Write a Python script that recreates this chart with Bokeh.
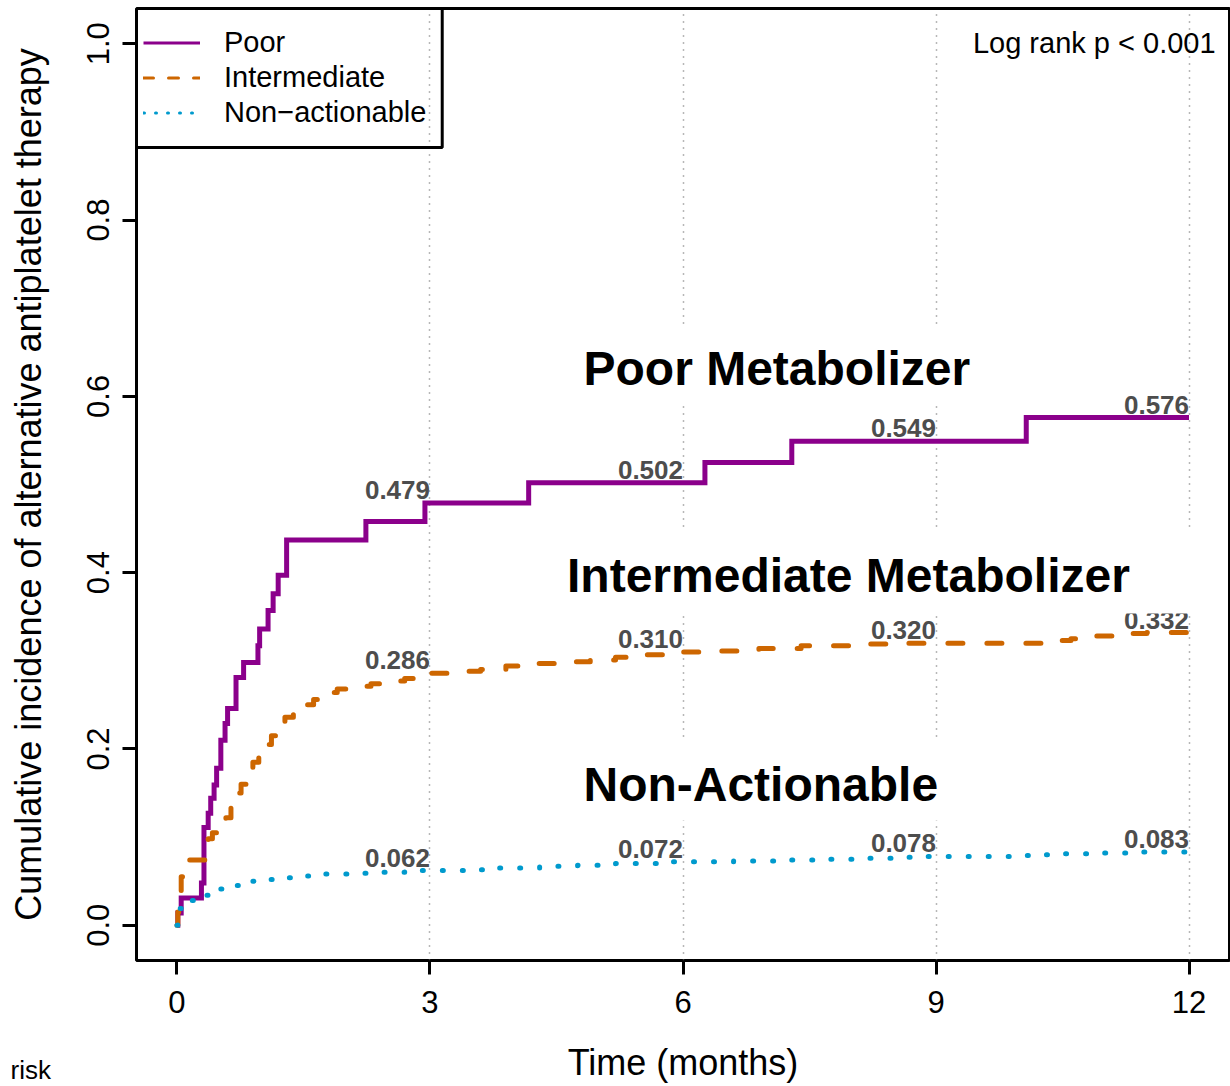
from bokeh.plotting import figure
from bokeh.models import (Range1d, FixedTicker, PrintfTickFormatter, Legend, LegendItem,
                          LabelSet, BoxAnnotation, ColumnDataSource, Title)
from bokeh.core.properties import value
from bokeh.embed import file_html
from bokeh.resources import INLINE

# ---------------- data ----------------
x_ticks = [0, 3, 6, 9, 12]
y_ticks = [0.0, 0.2, 0.4, 0.6, 0.8, 1.0]
grid_ticks = [3, 6, 9, 12]

poor_t = [0.00, 0.01, 0.05, 0.29, 0.32, 0.37, 0.40, 0.44, 0.47, 0.52, 0.57, 0.60, 0.70,
          0.79, 0.96, 0.98, 1.08, 1.14, 1.20, 1.30, 2.24, 2.94, 4.17, 6.26, 7.29, 10.07, 12.00]
poor_v = [0.000, 0.014, 0.031, 0.048, 0.111, 0.127, 0.144, 0.159, 0.178, 0.210, 0.229, 0.246, 0.281,
          0.298, 0.317, 0.336, 0.357, 0.376, 0.397, 0.437, 0.458, 0.479, 0.502, 0.525, 0.549, 0.576, 0.576]

inter_t = [0.00, 0.01, 0.03, 0.05, 0.07, 0.12, 0.33, 0.37, 0.42, 0.50, 0.58, 0.64, 0.70, 0.76,
           0.83, 0.90, 0.97, 1.05, 1.12, 1.20, 1.28, 1.38, 1.50, 1.62, 1.75, 1.90, 2.10, 2.30,
           2.50, 2.70, 2.85, 2.95, 3.30, 3.60, 3.90, 4.20, 4.50, 4.90, 5.20, 5.50, 5.80, 6.40,
           6.90, 7.40, 8.00, 8.50, 10.40, 10.60, 10.90, 11.20, 11.50, 12.00]
inter_v = [0.000, 0.015, 0.035, 0.055, 0.065, 0.074, 0.085, 0.098, 0.105, 0.112, 0.122, 0.135, 0.150, 0.160,
           0.172, 0.185, 0.195, 0.205, 0.215, 0.228, 0.236, 0.244, 0.250, 0.256, 0.264, 0.268, 0.271, 0.274,
           0.277, 0.280, 0.284, 0.286, 0.288, 0.290, 0.294, 0.297, 0.299, 0.301, 0.304, 0.307, 0.310, 0.311,
           0.314, 0.317, 0.319, 0.320, 0.323, 0.325, 0.328, 0.331, 0.332, 0.332]

nonact_t = [0.00, 0.01, 0.03, 0.10, 0.30, 0.45, 0.65, 0.90, 1.10, 1.30, 1.55, 1.75, 2.20, 2.45, 2.70,
            2.90, 3.40, 3.80, 4.30, 4.75, 5.20, 5.70, 6.60, 7.20, 7.70, 8.10, 8.60, 8.90, 10.00,
            10.20, 10.50, 11.00, 11.40, 12.00]
nonact_v = [0.000, 0.012, 0.019, 0.028, 0.034, 0.041, 0.045, 0.050, 0.052, 0.054, 0.056, 0.058, 0.059, 0.060, 0.061,
            0.062, 0.063, 0.065, 0.067, 0.068, 0.070, 0.072, 0.073, 0.074, 0.075, 0.076, 0.077, 0.078, 0.079,
            0.080, 0.081, 0.082, 0.083, 0.083]

label_times = [3, 6, 9, 12]
poor_labels = [0.479, 0.502, 0.549, 0.576]
inter_labels = [0.286, 0.310, 0.320, 0.332]
nonact_labels = [0.062, 0.072, 0.078, 0.083]

series_names = ["Poor", "Intermediate", "Non\u2212actionable"]
group_titles = ["Poor Metabolizer", "Intermediate Metabolizer", "Non-Actionable"]
logrank_text = "Log rank p < 0.001"
risk_text = "risk"

# ---------------- styles ----------------
PURPLE = "#8B008B"
ORANGE = "#CD6600"
BLUE = "#009ACD"
FONT = "Liberation Sans"
NAN = float("nan")

p = figure(width=1230, height=1086,
           x_range=Range1d(-0.48, 12.48), y_range=Range1d(-0.04, 1.04),
           output_backend="svg", toolbar_location=None,
           min_border_left=136, min_border_right=1, min_border_top=8, min_border_bottom=126,
           x_axis_label="Time (months)",
           y_axis_label="Cumulative incidence of alternative antiplatelet therapy")
p.background_fill_color = "white"
p.border_fill_color = "white"
p.outline_line_color = "black"
p.outline_line_width = 3

p.xaxis.ticker = FixedTicker(ticks=x_ticks)
p.yaxis.ticker = FixedTicker(ticks=y_ticks)
p.yaxis.formatter = PrintfTickFormatter(format="%.1f")
p.yaxis.major_label_orientation = "vertical"
for ax in (p.xaxis, p.yaxis):
    ax.axis_line_color = None
    ax.major_tick_line_color = "black"
    ax.major_tick_line_width = 3
    ax.major_tick_out = 14
    ax.major_tick_in = 0
    ax.minor_tick_line_color = None
    ax.major_label_text_font = FONT
    ax.major_label_text_font_size = "31px"
    ax.major_label_text_color = "black"
    ax.axis_label_text_font = FONT
    ax.axis_label_text_font_size = "36px"
    ax.axis_label_text_font_style = "normal"
    ax.axis_label_text_color = "black"
p.xaxis.major_label_standoff = 16
p.xaxis.axis_label_standoff = 26
p.yaxis.major_label_standoff = 13
p.yaxis.axis_label_standoff = 36

p.xgrid.ticker = FixedTicker(ticks=grid_ticks)
p.xgrid.grid_line_color = "#707070"
p.xgrid.grid_line_width = 1.5
p.xgrid.grid_line_dash = "1 6"
p.ygrid.visible = False

# ---------------- curves ----------------
p.step(poor_t, poor_v, mode="after", line_color=PURPLE, line_width=5, line_join="miter")
p.step(inter_t, inter_v, mode="after", line_color=ORANGE, line_width=5,
       line_dash="15 24", line_cap="round", line_join="round")
p.step(nonact_t, nonact_v, mode="after", line_color=BLUE, line_width=5,
       line_dash="1 19", line_cap="round", line_join="round")

# legend sample renderers (thinner, as in the original legend; nothing drawn in the plot)
lg_poor = p.line(x=[NAN], y=[NAN], line_color=PURPLE, line_width=3)
lg_inter = p.line(x=[NAN], y=[NAN], line_color=ORANGE, line_width=3, line_dash="10 15", line_cap="round")
lg_non = p.line(x=[NAN], y=[NAN], line_color=BLUE, line_width=3, line_dash="1 11", line_cap="round")

# legend frame
p.add_layout(BoxAnnotation(left=-0.48, right=3.145, top=1.04, bottom=0.8823,
                           fill_alpha=0, line_color="black", line_alpha=1.0, line_width=3))

legend = Legend(items=[LegendItem(label=series_names[0], renderers=[lg_poor]),
                       LegendItem(label=series_names[1], renderers=[lg_inter]),
                       LegendItem(label=series_names[2], renderers=[lg_non])],
                location=(7, 830), margin=0, padding=7, spacing=0,
                glyph_height=35, label_height=35, glyph_width=57, label_standoff=24,
                border_line_color=None, background_fill_alpha=0,
                label_text_font=FONT, label_text_font_size="29px", label_text_color="black")
p.add_layout(legend)

# ---------------- value labels at 3, 6, 9, 12 months ----------------
lab_x = label_times * 3
lab_y = poor_labels + inter_labels + nonact_labels
lab_src = ColumnDataSource(dict(x=lab_x, y=lab_y, text=[f"{v:.3f}" for v in lab_y]))
p.add_layout(LabelSet(x="x", y="y", text="text", source=lab_src,
                      text_align="right", text_baseline="alphabetic", y_offset=4,
                      text_font=value(FONT), text_font_style="bold",
                      text_font_size="26px", text_color="#4D4D4D"))

# ---------------- white boxes behind the group titles ----------------
for (l, r, t, b) in [(4.54, 9.64, 0.680, 0.592), (4.37, 12.21, 0.448, 0.3536), (4.54, 9.28, 0.2096, 0.1188)]:
    p.add_layout(BoxAnnotation(left=l, right=r, top=t, bottom=b,
                               fill_color="white", fill_alpha=1.0, line_color=None))

title_src = ColumnDataSource(dict(x=[4.82, 4.625, 4.82], y=[0.613, 0.3776, 0.1410], text=group_titles))
p.add_layout(LabelSet(x="x", y="y", text="text", source=title_src,
                      text_align="left", text_baseline="alphabetic",
                      text_font=value(FONT), text_font_style="bold",
                      text_font_size="48px", text_color="black"))

lr_src = ColumnDataSource(dict(x=[12.315], y=[0.990], text=[logrank_text]))
p.add_layout(LabelSet(x="x", y="y", text="text", source=lr_src,
                      text_align="right", text_baseline="alphabetic",
                      text_font=value(FONT), text_font_size="29px", text_color="black"))

# caption at the bottom-left corner, below the x axis (negative standoff keeps the frame size)
risk_title = Title(text=risk_text, align="left", vertical_align="top", offset=-126, standoff=-62,
                   text_font=FONT, text_font_size="26px", text_font_style="normal",
                   text_color="black")
p.add_layout(risk_title, "below")

open("out.html", "w").write(file_html(p, INLINE))
